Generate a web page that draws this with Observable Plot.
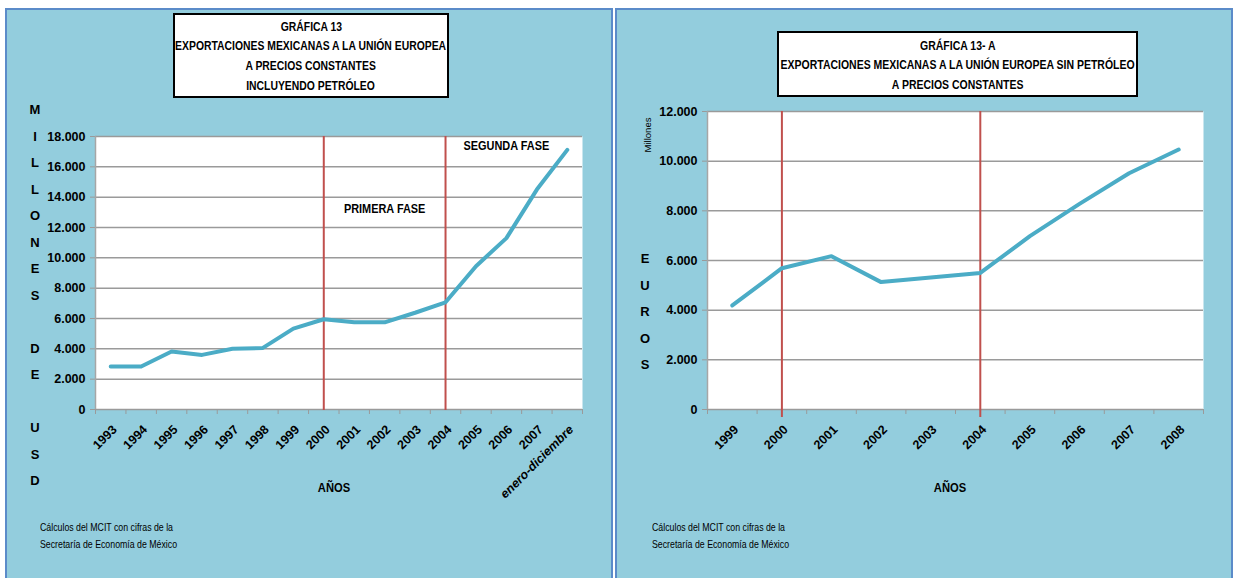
<!DOCTYPE html>
<html>
<head>
<meta charset="utf-8">
<script src="https://cdn.jsdelivr.net/npm/d3@7"></script>
<script src="https://cdn.jsdelivr.net/npm/@observablehq/plot@0.6"></script>
<style>
  body { margin: 0; background: #ffffff; }
  #page { position: relative; width: 1233px; height: 578px; overflow: hidden; background: #ffffff;
          font-family: "Liberation Sans", Arial, sans-serif; color: #000; }
  .panel { position: absolute; top: 8px; height: 600px; background: #93CDDD; border: 2px solid #5B8BC9; box-sizing: border-box; }
  .titlebox { position: absolute; background: #fff; border: 2px solid #000; box-sizing: border-box;
              font-weight: bold; font-size: 13px; }
  .titlebox div { height: 19.8px; line-height: 19.8px; white-space: nowrap; display: flex; justify-content: center; }
  .titlebox span, .caption span { display: inline-block; white-space: nowrap; flex: none; }
  .vlabel { position: absolute; font-weight: bold; font-size: 13px; text-align: center; width: 20px;
            white-space: pre; line-height: 26.5px; }
  .axtitle { position: absolute; font-weight: bold; font-size: 13px; transform: translateX(-50%) scaleX(0.86); }
  .caption { position: absolute; font-size: 10.5px; line-height: 16.5px; white-space: nowrap; }
  .caption div { height: 16.5px; }
  .caption span { transform-origin: left center; }
  .chart { position: absolute; top: 0; }
  .millones { position: absolute; font-size: 9.5px; transform: translate(-50%,-50%) rotate(-90deg); white-space: nowrap; }
</style>
</head>
<body>
<div id="page">
  <div class="panel" style="left:5px; width:608px;"></div>
  <div class="panel" style="left:615px; width:618px;"></div>
  <div id="chartA" class="chart" style="left:0px;"></div>
  <div id="chartB" class="chart" style="left:615px;"></div>
</div>
<script>
// ---------- DATA ----------
// Chart 13 (left): exports incl. oil, millions USD
const categoriesA = ["1993","1994","1995","1996","1997","1998","1999","2000","2001","2002","2003","2004","2005","2006","2007","enero-diciembre"];
const valuesA = [2830, 2830, 3820, 3600, 4000, 4060, 5330, 5950, 5750, 5750, 6380, 7070, 9450, 11300, 14500, 17120];
const yTicksA = [0, 2000, 4000, 6000, 8000, 10000, 12000, 14000, 16000, 18000];
const phaseLinesA = ["2000", "2004"];
const phaseLabelsA = [
  {label: "PRIMERA FASE", at: "2002", value: 13250},
  {label: "SEGUNDA FASE", at: "2006", value: 17380}
];
const titleA = ["GRÁFICA 13", "EXPORTACIONES MEXICANAS A LA UNIÓN EUROPEA", "A PRECIOS CONSTANTES", "INCLUYENDO PETRÓLEO"];
const yLabelA = "MILLONES DE USD";

// Chart 13-A (right): exports without oil, millions EUR
const categoriesB = ["1999","2000","2001","2002","2003","2004","2005","2006","2007","2008"];
const valuesB = [4190, 5690, 6175, 5130, 5320, 5500, 6980, 8280, 9515, 10470];
const yTicksB = [0, 2000, 4000, 6000, 8000, 10000, 12000];
const phaseLinesB = ["2000", "2004"];
const titleB = ["GRÁFICA 13- A", "EXPORTACIONES MEXICANAS A LA UNIÓN EUROPEA SIN PETRÓLEO", "A PRECIOS CONSTANTES"];
const yLabelB = "EUROS";
const unitB = "Millones";

const xTitle = "AÑOS";
const caption = ["Cálculos del MCIT con cifras de la", "Secretaría de Economía de México"];

// ---------- HELPERS ----------
const fmt = d3.formatLocale({decimal: ",", thousands: ".", grouping: [3], currency: ["", ""]}).format(",d");
const font = "'Liberation Sans', Arial, sans-serif";
const isYear = (c) => /^\d{4}$/.test(c);

function chart({cats, vals, ticks, yMax, phases, labels, width, height, mL, mR, mT, mB, redExt}) {
  const rows = cats.map((c, i) => ({c, i, v: vals[i]}));
  const pos = (c) => cats.indexOf(c) + 0.5;
  const labelOpts = {x: (d) => d.i + 0.5, y: 0, text: "c", rotate: -45, textAnchor: "end", lineAnchor: "middle",
                     dx: 4, dy: 18, fontWeight: "bold", fontSize: 12.5};
  return Plot.plot({
    width, height,
    marginLeft: mL, marginRight: mR, marginTop: mT, marginBottom: mB,
    x: {type: "linear", domain: [0, cats.length]},
    y: {type: "linear", domain: [0, yMax]},
    style: {background: "transparent", overflow: "visible", fontFamily: font, fontSize: "12.5px", color: "#000"},
    marks: [
      Plot.frame({fill: "white", stroke: "none"}),
      Plot.ruleY(ticks, {stroke: "#9a9a9a", strokeWidth: 1.5}),
      Plot.axisY({ticks, tickSize: 5, tickPadding: 5, tickFormat: fmt, stroke: "#9a9a9a", fill: "#000",
                  fontWeight: "bold", fontSize: 12.5, label: null}),
      Plot.axisX({ticks: d3.range(cats.length + 1), tickSize: 5, tickFormat: () => "", stroke: "#9a9a9a", label: null}),
      Plot.ruleX([0], {stroke: "#a6a6a6", strokeWidth: 1.5}),
      Plot.ruleX(phases, {x: pos, stroke: "#C0504D", strokeWidth: 2, insetBottom: -redExt}),
      Plot.line(rows, {x: (d) => d.i + 0.5, y: "v", stroke: "#4BACC6", strokeWidth: 4,
                       strokeLinejoin: "round", strokeLinecap: "round"}),
      Plot.text(rows.filter(d => isYear(d.c)), labelOpts),
      Plot.text(rows.filter(d => !isYear(d.c)), {...labelOpts, fontStyle: "italic"}),
      Plot.text(labels, {x: (d) => pos(d.at), y: "value", text: "label", fontWeight: "bold", fontSize: 13})
    ]
  });
}

function addDiv(cls, style, html) {
  const d = document.createElement("div");
  d.className = cls;
  d.setAttribute("style", style);
  d.innerHTML = html;
  document.getElementById("page").appendChild(d);
  return d;
}

// condense annotation texts (Calibri-like narrow caps)
function condenseSvgTexts(svg, labels, factor) {
  svg.querySelectorAll("text").forEach((t) => {
    if (labels.includes(t.textContent)) {
      const L = t.getComputedTextLength();
      t.setAttribute("textLength", (L * factor).toFixed(1));
      t.setAttribute("lengthAdjust", "spacingAndGlyphs");
    }
  });
}

// ---------- CHARTS ----------
const svgA = chart({
  cats: categoriesA, vals: valuesA, ticks: yTicksA, yMax: 18000, phases: phaseLinesA, labels: phaseLabelsA,
  width: 613, height: 578, mL: 95, mR: 31, mT: 136, mB: 169, redExt: 1
});
document.getElementById("chartA").appendChild(svgA);
condenseSvgTexts(svgA, phaseLabelsA.map(d => d.label), 0.84);

document.getElementById("chartB").appendChild(chart({
  cats: categoriesB, vals: valuesB, ticks: yTicksB, yMax: 12000, phases: phaseLinesB, labels: [],
  width: 618, height: 578, mL: 92, mR: 30, mT: 111, mB: 169, redExt: 8
}));

// ---------- TEXT ----------
function titleBox(lines, style, target) {
  const box = addDiv("titlebox", style, lines.map(t => `<div><span>${t}</span></div>`).join(""));
  const spans = [...box.querySelectorAll("span")];
  const maxW = Math.max(...spans.map(s => s.getBoundingClientRect().width));
  const s = target / maxW;
  spans.forEach(sp => { sp.style.transform = `scaleX(${s})`; });
}
titleBox(titleA, "left:173px; top:13px; width:276px; height:85px; padding-top:1.5px;", 271);
titleBox(titleB, "left:777px; top:31px; width:361px; height:66px; padding-top:2.5px;", 354);

addDiv("vlabel", "left:25px; top:97px;", yLabelA.split("").join("\n"));
addDiv("vlabel", "left:635px; top:246px;", yLabelB.split("").join("\n"));
addDiv("millones", "left:647px; top:135px;", unitB);

addDiv("axtitle", "left:334px; top:480px;", xTitle);
addDiv("axtitle", "left:950px; top:480px;", xTitle);

function captionBox(style) {
  const box = addDiv("caption", style, caption.map(t => `<div><span>${t}</span></div>`).join(""));
  const spans = [...box.querySelectorAll("span")];
  const s = 133 / spans[0].getBoundingClientRect().width;
  spans.forEach(sp => { sp.style.transform = `scaleX(${s})`; });
}
captionBox("left:40px; top:519px;");
captionBox("left:652px; top:519px;");
</script>
</body>
</html>
